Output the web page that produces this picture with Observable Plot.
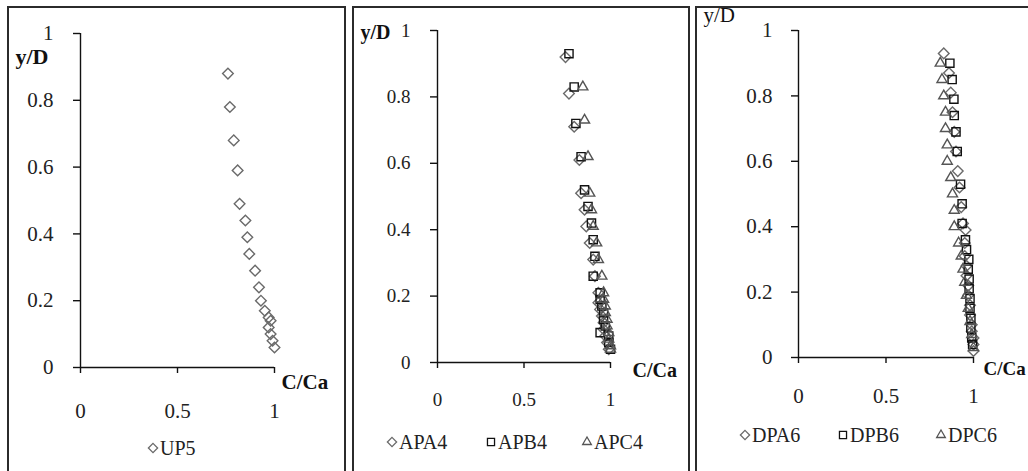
<!DOCTYPE html>
<html>
<head>
<meta charset="utf-8">
<script src="https://cdn.jsdelivr.net/npm/d3@7"></script>
<script src="https://cdn.jsdelivr.net/npm/@observablehq/plot@0.6"></script>
<style>
  html, body { margin: 0; padding: 0; background: #fff; }
  body { width: 1028px; height: 471px; position: relative; overflow: hidden; font-family: "Liberation Serif", "Times New Roman", serif; }
  .frame { position: absolute; top: 6px; height: 480px; border: 2px solid #2b2b2b; border-bottom: none; box-sizing: border-box; }
  .plot { position: absolute; top: 0; }
  .plot svg, .plot svg text { font-family: "Liberation Serif", "Times New Roman", serif !important; }
  .legend { position: absolute; display: flex; align-items: center; color: #222; line-height: 1; white-space: nowrap; }
  .legend svg { overflow: visible; }
</style>
</head>
<body>
<div class="frame" style="left:7px;width:339px"></div>
<div class="frame" style="left:352px;width:338px"></div>
<div class="frame" style="left:695px;width:345px"></div>
<div id="p1" class="plot" style="left:0px"></div>
<div id="p2" class="plot" style="left:350px"></div>
<div id="p3" class="plot" style="left:696px"></div>
<div id="legends"></div>
<script>
// ---- data ----
const xTicks = [0, 0.5, 1];
const yTicks = [0, 0.2, 0.4, 0.6, 0.8, 1];
const xTitle = "C/Ca";
const yTitle = "y/D";

// Panel 1
const up5X = [0.76, 0.77, 0.79, 0.81, 0.82, 0.85, 0.86, 0.87, 0.90, 0.92, 0.93, 0.95, 0.97, 0.98, 0.97, 0.98, 0.99, 1.00];
const up5Y = [0.88, 0.78, 0.68, 0.59, 0.49, 0.44, 0.39, 0.34, 0.29, 0.24, 0.20, 0.17, 0.15, 0.14, 0.12, 0.10, 0.08, 0.06];

// Panel 2
const apa4X = [0.74, 0.76, 0.79, 0.82, 0.83, 0.85, 0.86, 0.88, 0.90, 0.91, 0.93, 0.93, 0.94, 0.95, 0.96, 0.96, 0.97, 0.98, 0.99];
const apa4Y = [0.92, 0.81, 0.71, 0.61, 0.51, 0.46, 0.41, 0.36, 0.31, 0.26, 0.21, 0.18, 0.16, 0.14, 0.12, 0.10, 0.08, 0.06, 0.04];
const apb4X = [0.76, 0.79, 0.80, 0.83, 0.85, 0.87, 0.89, 0.90, 0.91, 0.90, 0.94, 0.94, 0.95, 0.96, 0.96, 0.97, 0.94, 0.99, 0.99, 1.00];
const apb4Y = [0.93, 0.83, 0.72, 0.62, 0.52, 0.47, 0.42, 0.37, 0.32, 0.26, 0.21, 0.19, 0.17, 0.15, 0.13, 0.11, 0.09, 0.08, 0.06, 0.04];
const apc4X = [0.84, 0.85, 0.87, 0.88, 0.89, 0.90, 0.92, 0.93, 0.95, 0.96, 0.96, 0.97, 0.97, 0.98, 0.98, 0.99, 0.99, 1.00, 1.00];
const apc4Y = [0.83, 0.73, 0.62, 0.51, 0.46, 0.41, 0.36, 0.31, 0.26, 0.21, 0.19, 0.17, 0.15, 0.13, 0.11, 0.09, 0.07, 0.05, 0.04];

// Panel 3
const dpa6X = [0.83, 0.86, 0.87, 0.88, 0.89, 0.90, 0.91, 0.92, 0.93, 0.94, 0.955, 0.95, 0.95, 0.96, 0.96, 0.97, 0.97, 0.98, 0.98, 0.99, 0.99, 1.00, 1.00, 1.00];
const dpa6Y = [0.93, 0.87, 0.81, 0.75, 0.69, 0.63, 0.57, 0.52, 0.46, 0.41, 0.39, 0.35, 0.31, 0.28, 0.25, 0.22, 0.19, 0.16, 0.13, 0.10, 0.08, 0.06, 0.04, 0.02];
const dpb6X = [0.865, 0.878, 0.888, 0.89, 0.90, 0.907, 0.926, 0.935, 0.935, 0.954, 0.96, 0.973, 0.97, 0.975, 0.975, 0.98, 0.98, 0.985, 0.985, 0.99, 0.995];
const dpb6Y = [0.90, 0.85, 0.79, 0.74, 0.69, 0.63, 0.53, 0.47, 0.41, 0.36, 0.33, 0.30, 0.27, 0.24, 0.21, 0.18, 0.15, 0.12, 0.09, 0.06, 0.04];
const dpc6X = [0.81, 0.82, 0.83, 0.84, 0.84, 0.85, 0.85, 0.87, 0.88, 0.89, 0.89, 0.915, 0.93, 0.94, 0.95, 0.96, 0.97, 0.98, 0.99, 1.00];
const dpc6Y = [0.90, 0.85, 0.80, 0.75, 0.70, 0.65, 0.60, 0.55, 0.50, 0.45, 0.40, 0.35, 0.31, 0.27, 0.23, 0.19, 0.15, 0.11, 0.07, 0.03];

const symbolStyles = {
  diamond: {symbol: "diamond2", stroke: "#6a6a6a", r: 4.8},
  square: {symbol: "square2", stroke: "#111", r: 5.2},
  triangle: {symbol: "triangle2", stroke: "#555", r: 4.8}
};

function rows(xs, ys) { return xs.map((x, i) => ({x, y: ys[i]})); }

const panels = [
  {
    id: "p1", width: 345, height: 430, mL: 80, mR: 71, mT: 33, mB: 63, fs: 21,
    xPad: 30, yPad: 20,
    yT: {dx: -65, dy: 23, bold: true, fs: 22},
    xT: {dx: 7, dy: 15, fs: 21},
    series: [{name: "UP5", kind: "diamond", data: rows(up5X, up5Y)}],
    legend: {y: 448, fs: 20, items: [153]}
  },
  {
    id: "p2", width: 340, height: 430, mL: 87, mR: 80, mT: 30, mB: 68, fs: 19,
    xPad: 24, yPad: 20,
    yT: {dx: -77, dy: 2, bold: true, fs: 20},
    xT: {dx: 22, dy: 8, fs: 20},
    series: [
      {name: "APA4", kind: "diamond", data: rows(apa4X, apa4Y)},
      {name: "APB4", kind: "square", data: rows(apb4X, apb4Y)},
      {name: "APC4", kind: "triangle", data: rows(apc4X, apc4Y)}
    ],
    legend: {y: 442, fs: 20, items: [392, 491, 587]}
  },
  {
    id: "p3", width: 332, height: 430, mL: 102, mR: 55, mT: 30, mB: 73, fs: 21,
    xPad: 25, yPad: 19,
    yT: {dx: -95, dy: -15, bold: false, fs: 21},
    xT: {dx: 10, dy: 11, fs: 19},
    series: [
      {name: "DPA6", kind: "diamond", data: rows(dpa6X, dpa6Y)},
      {name: "DPB6", kind: "square", data: rows(dpb6X, dpb6Y)},
      {name: "DPC6", kind: "triangle", data: rows(dpc6X, dpc6Y)}
    ],
    legend: {y: 435, fs: 20, items: [745, 843, 941]}
  }
];

const fmt = d => String(d);
const serif = '"Liberation Serif", "Times New Roman", serif';

for (const p of panels) {
  const marks = [
    Plot.ruleY([0], {stroke: "#111", strokeWidth: 1.4}),
    Plot.ruleX([0], {stroke: "#111", strokeWidth: 1.4}),
    Plot.axisX({ticks: xTicks, tickSize: 6, tickPadding: p.xPad, tickFormat: fmt, label: null, stroke: "#111", strokeWidth: 1.4, fill: "#222", fontSize: p.fs}),
    Plot.axisY({ticks: yTicks, tickSize: 7, tickPadding: p.yPad, tickFormat: fmt, label: null, stroke: "#111", strokeWidth: 1.4, fill: "#222", fontSize: p.fs})
  ];
  for (const s of p.series) {
    const st = symbolStyles[s.kind];
    marks.push(Plot.dot(s.data, {x: "x", y: "y", symbol: st.symbol, stroke: st.stroke, r: st.r, strokeWidth: 1.4, fill: "none"}));
  }
  marks.push(Plot.text([yTitle], {frameAnchor: "top-left", dx: p.yT.dx, dy: p.yT.dy, textAnchor: "start", lineAnchor: "middle", fontWeight: p.yT.bold ? "bold" : "normal", fontSize: p.yT.fs, fill: "#111"}));
  marks.push(Plot.text([xTitle], {frameAnchor: "bottom-right", dx: p.xT.dx, dy: p.xT.dy, textAnchor: "start", lineAnchor: "middle", fontWeight: "bold", fontSize: p.xT.fs, fill: "#111"}));

  const chart = Plot.plot({
    width: p.width, height: p.height,
    marginLeft: p.mL, marginRight: p.mR, marginTop: p.mT, marginBottom: p.mB,
    x: {domain: [0, 1]},
    y: {domain: [0, 1]},
    style: {fontFamily: serif, fontSize: p.fs + "px", background: "transparent", overflow: "visible"},
    marks
  });
  chart.setAttribute("font-family", serif);
  document.getElementById(p.id).appendChild(chart);

  // legend below the plot
  const leg = document.getElementById("legends");
  p.series.forEach((s, i) => {
    const st = symbolStyles[s.kind];
    const item = document.createElement("div");
    item.className = "legend";
    item.style.left = (p.legend.items[i] - 6) + "px";
    item.style.top = (p.legend.y - p.legend.fs / 2) + "px";
    item.style.fontSize = p.legend.fs + "px";
    item.style.height = p.legend.fs + "px";
    const sym = {diamond: d3.symbolDiamond2, square: d3.symbolSquare2, triangle: d3.symbolTriangle2}[s.kind];
    const size = Math.PI * st.r * st.r * 0.75;
    const svg = d3.create("svg").attr("width", 12).attr("height", 12).style("margin-right", "1px");
    svg.append("path").attr("d", d3.symbol(sym, size)()).attr("transform", "translate(6,6)")
      .attr("fill", "none").attr("stroke", st.stroke).attr("stroke-width", 1.3);
    item.appendChild(svg.node());
    const t = document.createElement("span");
    t.textContent = s.name;
    item.appendChild(t);
    leg.appendChild(item);
  });
}
</script>
</body>
</html>
